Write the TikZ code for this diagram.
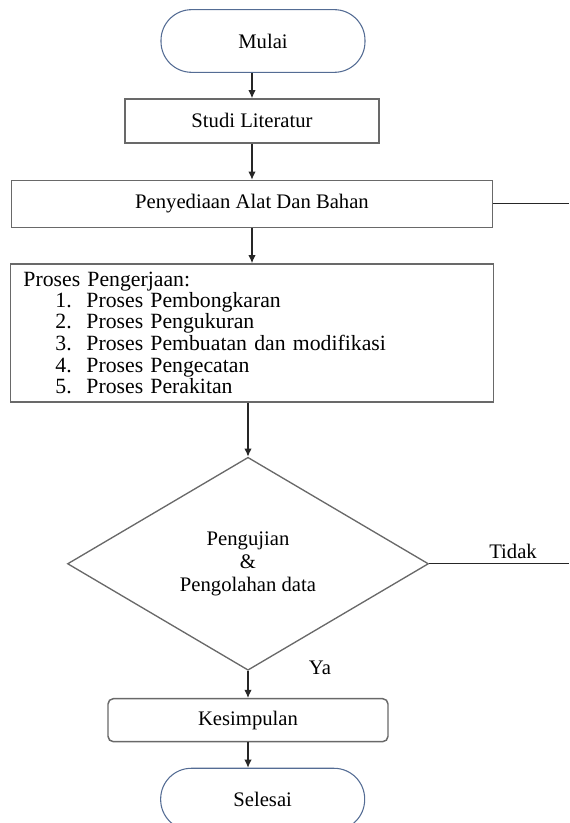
\documentclass[tikz,border=0pt]{standalone}
\usepackage{fontspec}
\setmainfont{Liberation Serif}
\usetikzlibrary{shapes.geometric, arrows.meta, positioning}
\definecolor{termblue}{RGB}{84,108,148}
\definecolor{boxgray}{RGB}{105,105,105}
\tikzset{
every node/.append style={font=\fontsize{15.5pt}{17pt}\selectfont}, % Times-like text everywhere
>={Latex[length=6pt,width=5.5pt]}, % small filled heads
terminal/.style={draw=termblue, line width=0.8pt, rounded corners=23pt, minimum width=153pt, minimum height=47pt}, % Mulai / Selesai
procbox/.style={draw=boxgray, line width=1.1pt}, % plain steps
decision/.style={diamond, draw=boxgray, line width=1pt, inner sep=0pt}, % test step
flow/.style={->, draw=black!85, line width=0.8pt}
}

\begin{document}
\begin{tikzpicture}
      \useasboundingbox (0,0) rectangle (426.75pt,-617.25pt);
      \node[terminal] (mulai) at (197.25pt,-30.75pt) {Mulai};
      \node[procbox, minimum width=190.5pt, minimum height=33pt, below=19pt of mulai, xshift=-8.25pt] (studi) {Studi Literatur};
      \node[procbox, minimum width=360.75pt, minimum height=35.25pt, below=27pt of studi] (alat) {Penyediaan Alat Dan Bahan};
      \node[procbox, minimum width=362.25pt, minimum height=103.5pt, text width=342.75pt, inner xsep=9.75pt, align=left, font=\fontsize{16.3pt}{16.2pt}\selectfont, below=26.25pt of alat] (proses) {\raisebox{-3.5pt}{Proses Pengerjaan:}\\
        \hspace*{24pt}\makebox[23.25pt][l]{1.}Proses Pembongkaran\\
        \hspace*{24pt}\makebox[23.25pt][l]{2.}Proses Pengukuran\\
        \hspace*{24pt}\makebox[23.25pt][l]{3.}Proses Pembuatan dan modifikasi\\
        \hspace*{24pt}\makebox[23.25pt][l]{4.}Proses Pengecatan\\
        \hspace*{24pt}\makebox[23.25pt][l]{5.}Proses Perakitan};
      \node[decision, minimum width=270.75pt, minimum height=159.75pt, align=center, below=40.5pt of proses, xshift=-3pt] (uji) {Pengujian\\ \&\\ Pengolahan data};
      \node[procbox, rounded corners=4pt, minimum width=210pt, minimum height=32.25pt, below=20.25pt of uji] (simpul) {Kesimpulan};
      \node[terminal, minimum height=46.5pt, below=19pt of simpul, xshift=11pt] (selesai) {Selesai};
      \coordinate (batas) at (426.75pt,0pt);
      \node (ya) at ([xshift=54pt,yshift=2pt]uji.south) {Ya};

      \draw[flow] (mulai.south -| studi.north) -- (studi.north);
      \draw[flow] (studi) -- (alat);
      \draw[flow] (alat.south) -- (alat.south |- proses.north);
      \draw[flow] (proses.south -| uji.north) -- (uji.north);
      \draw[flow] (uji.south) -- (uji.south |- simpul.north);
      \draw[flow] (simpul.south) -- (simpul.south |- selesai.north);
      \draw[draw=black!85, line width=0.8pt] (alat.east) -- (alat.east -| batas);
      \draw[draw=black!85, line width=0.8pt] (uji.east) -- node[above, pos=0.6] {Tidak} (uji.east -| batas);
    \end{tikzpicture}
\end{document}
